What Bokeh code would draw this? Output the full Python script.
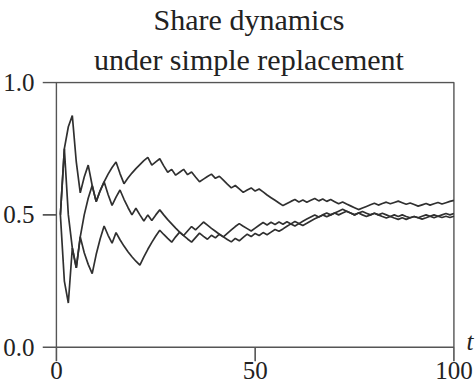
from bokeh.plotting import figure
from bokeh.models import Range1d, FixedTicker, NumeralTickFormatter, Title, LinearAxis
from bokeh.embed import file_html
from bokeh.resources import INLINE

# time steps
t = list(range(1, 101))

# shares of the three runs
share_a = [0.5, 0.75, 0.833, 0.875, 0.7, 0.583, 0.643, 0.688, 0.611, 0.55,
           0.591, 0.625, 0.654, 0.679, 0.7, 0.656, 0.618, 0.639, 0.658, 0.675,
           0.69, 0.705, 0.717, 0.688, 0.7, 0.712, 0.685, 0.661, 0.672, 0.65,
           0.661, 0.672, 0.652, 0.662, 0.643, 0.625, 0.635, 0.645, 0.654, 0.638,
           0.646, 0.631, 0.616, 0.602, 0.611, 0.598, 0.585, 0.594, 0.602, 0.59,
           0.598, 0.587, 0.575, 0.565, 0.555, 0.545, 0.535, 0.543, 0.551, 0.558,
           0.549, 0.556, 0.548, 0.555, 0.562, 0.553, 0.56, 0.551, 0.558, 0.55,
           0.542, 0.549, 0.541, 0.534, 0.527, 0.52, 0.526, 0.532, 0.538, 0.544,
           0.537, 0.543, 0.548, 0.542, 0.547, 0.552, 0.546, 0.54, 0.545, 0.539,
           0.533, 0.538, 0.543, 0.537, 0.542, 0.547, 0.541, 0.546, 0.551, 0.555]

share_b = [0.5, 0.75, 0.5, 0.375, 0.3, 0.417, 0.5, 0.563, 0.611, 0.55,
           0.591, 0.625, 0.577, 0.536, 0.567, 0.594, 0.559, 0.528, 0.5, 0.525,
           0.5, 0.477, 0.5, 0.479, 0.5, 0.519, 0.5, 0.482, 0.466, 0.45,
           0.435, 0.422, 0.409, 0.397, 0.414, 0.431, 0.419, 0.408, 0.423, 0.413,
           0.427, 0.417, 0.407, 0.398, 0.411, 0.402, 0.415, 0.427, 0.418, 0.43,
           0.422, 0.433, 0.425, 0.435, 0.445, 0.438, 0.447, 0.457, 0.466, 0.458,
           0.467, 0.476, 0.484, 0.492, 0.5, 0.492, 0.5, 0.507, 0.5, 0.507,
           0.514, 0.521, 0.514, 0.507, 0.5, 0.507, 0.5, 0.494, 0.5, 0.506,
           0.5, 0.494, 0.488, 0.494, 0.488, 0.483, 0.489, 0.483, 0.489, 0.494,
           0.489, 0.495, 0.5, 0.495, 0.5, 0.495, 0.5, 0.505, 0.5, 0.505]

share_c = [0.5, 0.25, 0.167, 0.375, 0.3, 0.417, 0.357, 0.313, 0.278, 0.35,
           0.409, 0.458, 0.423, 0.393, 0.433, 0.406, 0.382, 0.361, 0.342, 0.325,
           0.31, 0.341, 0.37, 0.396, 0.42, 0.442, 0.426, 0.411, 0.397, 0.417,
           0.435, 0.422, 0.439, 0.456, 0.443, 0.458, 0.473, 0.461, 0.449, 0.438,
           0.427, 0.417, 0.43, 0.443, 0.456, 0.467, 0.457, 0.448, 0.439, 0.45,
           0.461, 0.471, 0.462, 0.472, 0.464, 0.473, 0.465, 0.474, 0.466, 0.475,
           0.467, 0.46, 0.468, 0.477, 0.485, 0.492, 0.5, 0.493, 0.5, 0.507,
           0.5, 0.507, 0.514, 0.507, 0.5, 0.507, 0.513, 0.506, 0.5, 0.506,
           0.5, 0.506, 0.5, 0.494, 0.5, 0.494, 0.5, 0.494, 0.489, 0.494,
           0.489, 0.484, 0.489, 0.495, 0.489, 0.495, 0.49, 0.495, 0.49, 0.495]

x_ticks = [0, 50, 100]
y_ticks = [0, 0.5, 1]
title_lines = ["Share dynamics", "under simple replacement"]
x_label = "t"

FONT = "Liberation Serif"
AXIS_COLOR = "#555555"
LINE_COLOR = "#303030"
TEXT_COLOR = "#222222"

X0, X1 = 0, 100
Y0, Y1 = 0, 1
TICK_DX = 3.5      # tick length along x, data units (about 14 px)
TICK_DY = 0.054    # tick length along y, data units (about 14 px)

p = figure(width=476, height=390, output_backend="svg", toolbar_location=None,
           x_range=Range1d(X0 - TICK_DX, X1 + 0.4),
           y_range=Range1d(Y0 - TICK_DY, Y1 + 0.004),
           min_border_left=42, min_border_right=20,
           min_border_top=4, min_border_bottom=29)
p.title.text = title_lines[0]
p.title.align = "center"
p.title.text_font = FONT
p.title.text_font_size = "30px"
p.title.text_font_style = "normal"
p.title.text_color = TEXT_COLOR
p.title.standoff = 0
p.add_layout(Title(text=title_lines[1], align="center", text_font=FONT,
                   text_font_size="30px", text_font_style="normal",
                   text_color=TEXT_COLOR, standoff=11), "above")

p.background_fill_color = "white"
p.border_fill_color = "white"
p.outline_line_color = None
p.grid.visible = False

# right-hand axis only carries the italic "t" next to the x axis end
t_axis = LinearAxis(ticker=FixedTicker(ticks=[0.023], minor_ticks=[]),
                    major_label_overrides={0.023: x_label},
                    axis_line_color=None, major_tick_line_color=None,
                    minor_tick_line_color=None, major_tick_out=0, major_tick_in=0,
                    major_label_standoff=11,
                    major_label_text_font=FONT, major_label_text_font_style="italic",
                    major_label_text_font_size="25px", major_label_text_color=TEXT_COLOR)
p.add_layout(t_axis, "right")

for ax in (p.xaxis[0], p.yaxis[0]):
    ax.major_tick_in = 0
    ax.major_tick_out = 0
    ax.axis_line_color = None
    ax.major_tick_line_color = None
    ax.minor_tick_line_color = None
    ax.major_label_text_font = FONT
    ax.major_label_text_font_size = "25px"
    ax.major_label_text_color = TEXT_COLOR

p.xaxis[0].ticker = FixedTicker(ticks=x_ticks, minor_ticks=[])
p.yaxis[0].ticker = FixedTicker(ticks=y_ticks, minor_ticks=[])
p.yaxis[0].formatter = NumeralTickFormatter(format="0.0")
p.xaxis[0].major_label_standoff = 0
p.yaxis[0].major_label_standoff = 8

# box around the data area and outward tick marks
p.quad(left=[X0], right=[X1], bottom=[Y0], top=[Y1], fill_color=None,
       line_color=AXIS_COLOR, line_width=1.4)
p.segment(x0=[X0 - TICK_DX] * len(y_ticks), y0=y_ticks,
          x1=[X0] * len(y_ticks), y1=y_ticks,
          line_color=AXIS_COLOR, line_width=1.6)
p.segment(x0=x_ticks, y0=[Y0 - TICK_DY] * len(x_ticks),
          x1=x_ticks, y1=[Y0] * len(x_ticks),
          line_color=AXIS_COLOR, line_width=1.6)

for ys in (share_a, share_b, share_c):
    p.line(t, ys, line_color=LINE_COLOR, line_width=1.7)

open("out.html", "w").write(file_html(p, INLINE))
